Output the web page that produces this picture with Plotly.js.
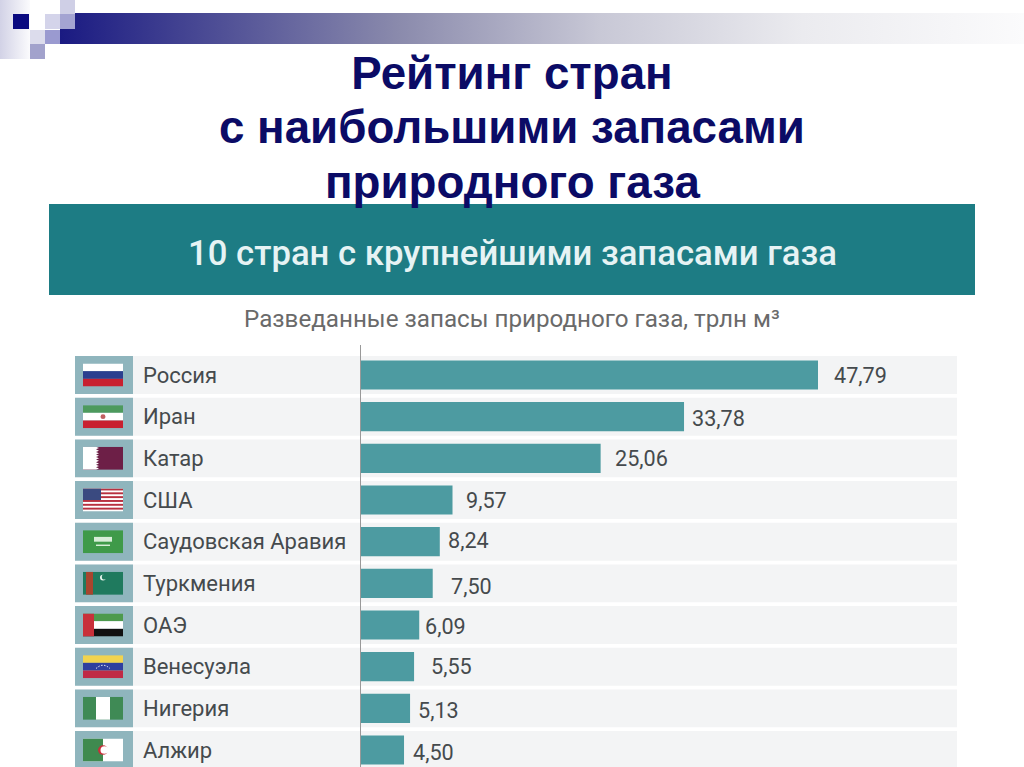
<!DOCTYPE html>
<html><head><meta charset="utf-8">
<script src="https://cdn.plot.ly/plotly-3.0.1.min.js"></script>
<style>html,body{margin:0;padding:0;background:#fff;overflow:hidden}#c{width:1024px;height:767px}</style>
</head><body><div id="c"></div>
<script>
const countries = ['Россия','Иран','Катар','США','Саудовская Аравия','Туркмения','ОАЭ','Венесуэла','Нигерия','Алжир'];
const reserves = [47.79,33.78,25.06,9.57,8.24,7.50,6.09,5.55,5.13,4.50];
const titleLines = ['Рейтинг стран','с наибольшими запасами','природного газа'];
const bandTitle = '10 стран с крупнейшими запасами газа';
const unitTitle = 'Разведанные запасы природного газа, трлн м³';
const labelShiftX = [14,6,12,11.5,6,16,4,15,6,7];
const labelShiftY = [0,-2,0,0,1,-3,-1,0,-2,-2];
const flags = [
 '<rect width="40" height="8" fill="#fff"/><rect y="8" width="40" height="8" fill="#2b3f8f"/><rect y="16" width="40" height="8" fill="#c8202f"/>',
 '<rect width="40" height="8" fill="#4d9a5d"/><rect y="8" width="40" height="8" fill="#fff"/><rect y="16" width="40" height="8" fill="#c8202f"/><circle cx="20" cy="12" r="2.5" fill="#c06060"/>',
 '<rect width="40" height="24" fill="#6d1f47"/><path d="M0 0H13L16 1.3L13 2.6L16 4L13 5.3L16 6.6L13 8L16 9.3L13 10.6L16 12L13 13.3L16 14.6L13 16L16 17.3L13 18.6L16 20L13 21.3L16 22.6L13 24H0Z" fill="#fff"/>',
 '<rect width="40" height="24" fill="#fff"/><rect y="0" width="40" height="2" fill="#b8303f"/><rect y="4" width="40" height="2" fill="#b8303f"/><rect y="8" width="40" height="2" fill="#b8303f"/><rect y="12" width="40" height="2" fill="#b8303f"/><rect y="16" width="40" height="2" fill="#b8303f"/><rect y="20" width="40" height="2" fill="#b8303f"/><rect width="18" height="12" fill="#3a4a80"/>',
 '<rect width="40" height="24" fill="#3f9a49"/><rect x="11" y="7" width="18" height="5" fill="#d8eed8"/><rect x="13" y="15" width="14" height="1.5" fill="#d8eed8"/>',
 '<rect width="40" height="24" fill="#1f7a5e"/><rect x="3" width="7" height="24" fill="#a8452e"/><circle cx="20" cy="6" r="3" fill="#e8f5ee"/><circle cx="21.5" cy="5.3" r="2.7" fill="#1f7a5e"/>',
 '<rect width="40" height="8" fill="#4d9a4d"/><rect y="8" width="40" height="8" fill="#fff"/><rect y="16" width="40" height="8" fill="#111"/><rect width="11" height="24" fill="#c8303a"/>',
 '<rect width="40" height="8" fill="#f2d34f"/><rect y="8" width="40" height="8" fill="#2f3f9f"/><rect y="16" width="40" height="8" fill="#c02a45"/><path d="M13 14Q20 7 27 14" fill="none" stroke="#fff" stroke-width="1" stroke-dasharray="1.5 1.5"/>',
 '<rect width="40" height="24" fill="#3f8a55"/><rect x="13" width="14" height="24" fill="#fff"/>',
 '<rect width="40" height="24" fill="#fff"/><rect width="20" height="24" fill="#3f8a4f"/><circle cx="20" cy="12" r="5" fill="#c8303a"/><circle cx="21.5" cy="12" r="4" fill="#fff"/>'
];
const W = 1024, H = 767, L = 361, T = 345, PW = W - L, PH = H - T;
const pitch = 41.67, pxPerUnit = 457 / 47.79;
const px = v => (v - L) / PW, py = v => 1 - (v - T) / PH;
const uri = s => 'data:image/svg+xml,' + encodeURIComponent(s);
const deco = `<svg xmlns="http://www.w3.org/2000/svg" width="1024" height="70" viewBox="0 0 1024 70">
<defs><linearGradient id="a"><stop offset="0" stop-color="#1a1a82"/><stop offset=".35" stop-color="#8a8aac"/><stop offset=".56" stop-color="#c8c8d6"/><stop offset=".77" stop-color="#ebebef"/><stop offset="1" stop-color="#fbfbfc"/></linearGradient>
<linearGradient id="b"><stop offset="0" stop-color="#d2d2e6"/><stop offset="1" stop-color="#fbfbfd"/></linearGradient></defs>
<rect x="60" y="13" width="964" height="31" fill="url(#a)"/>
<rect x="0" y="0" width="30" height="59" fill="url(#b)"/>
<rect x="13" y="14" width="16" height="15" fill="#0a0a80"/>
<rect x="45" y="14" width="15" height="15" fill="#d4d4ea"/>
<rect x="60" y="0" width="15" height="14" fill="#cfcfe6"/>
<rect x="60" y="14" width="15" height="15" fill="#a4a4d2"/>
<rect x="30" y="30" width="15" height="14" fill="#dcdcec"/>
<rect x="45" y="30" width="15" height="14" fill="#9a9ad0"/>
<rect x="30" y="44" width="15" height="15" fill="#a2a2cc"/>
</svg>`;
const titleFont = {family:'Liberation Sans',size:45.7,weight:700,color:'#0b0b66'};
const shapes = [{type:'rect',xref:'paper',yref:'paper',x0:px(49),x1:px(975),y0:py(295),y1:py(204),fillcolor:'#1d7c84',line:{width:0},layer:'below'}];
const images = [{source:uri(deco),xref:'paper',yref:'paper',x:px(0),y:py(0),sizex:1024/PW,sizey:70/PH,sizing:'stretch',xanchor:'left',yanchor:'top',layer:'below'}];
const annotations = [
 {text:titleLines[1],xref:'paper',yref:'paper',x:px(512),y:py(128),xanchor:'center',yanchor:'middle',showarrow:false,font:titleFont},
 {text:titleLines[2],xref:'paper',yref:'paper',x:px(512),y:py(183),xanchor:'center',yanchor:'middle',showarrow:false,font:titleFont},
 {text:bandTitle,xref:'paper',yref:'paper',x:px(512.5),y:py(253),xanchor:'center',yanchor:'middle',showarrow:false,font:{family:'Roboto',size:34.7,weight:500,color:'#e6f3f4'}},
 {text:unitTitle,xref:'paper',yref:'paper',x:px(512),y:py(319),xanchor:'center',yanchor:'middle',showarrow:false,font:{family:'Roboto',size:24.2,color:'#6a6a6a'}}
];
countries.forEach((c,i)=>{
 shapes.push({type:'rect',xref:'paper',yref:'y',x0:px(75),x1:px(957),y0:i-0.455,y1:i+0.455,fillcolor:'#f3f4f5',line:{width:0},layer:'below'});
 shapes.push({type:'rect',xref:'paper',yref:'y',x0:px(75),x1:px(133),y0:i-0.455,y1:i+0.455,fillcolor:'#8fb5bd',line:{width:0},layer:'below'});
 images.push({source:uri(`<svg xmlns="http://www.w3.org/2000/svg" viewBox="0 0 40 24" preserveAspectRatio="none" width="40" height="24">${flags[i]}</svg>`),xref:'paper',yref:'y',x:px(83),y:i,sizex:40/PW,sizey:23/pitch,sizing:'stretch',xanchor:'left',yanchor:'middle',layer:'above'});
 annotations.push({text:c,xref:'paper',yref:'y',x:px(141),y:i,xanchor:'left',yanchor:'middle',showarrow:false,font:{family:'Roboto',size:22,color:'#454a4d'}});
 annotations.push({text:reserves[i].toFixed(2).replace('.',','),xref:'x',yref:'y',x:reserves[i],y:i,xanchor:'left',yanchor:'middle',xshift:labelShiftX[i],yshift:labelShiftY[i],showarrow:false,font:{family:'Roboto',size:21.6,color:'#454a4d'}});
});
Plotly.newPlot('c',[{type:'bar',orientation:'h',x:reserves,y:countries.map((_,i)=>i),marker:{color:'#4d9ba1',line:{width:0}},hoverinfo:'skip'}],{
 width:W,height:H,margin:{l:L,r:0,t:T,b:0,pad:0},paper_bgcolor:'#fff',plot_bgcolor:'rgba(0,0,0,0)',
 showlegend:false,bargap:0.3,
 title:{text:titleLines[0],font:titleFont,x:512/W,xanchor:'center',y:1-73/H,yanchor:'middle'},
 xaxis:{range:[0,PW/pxPerUnit],showgrid:false,zeroline:false,showticklabels:false,ticks:'',fixedrange:true},
 yaxis:{range:[(H-375)/pitch,-(375-T)/pitch],showgrid:false,zeroline:false,showticklabels:false,ticks:'',showline:true,linecolor:'#999',linewidth:1.5,fixedrange:true},
 shapes,images,annotations
},{displayModeBar:false,staticPlot:true});
</script></body></html>
